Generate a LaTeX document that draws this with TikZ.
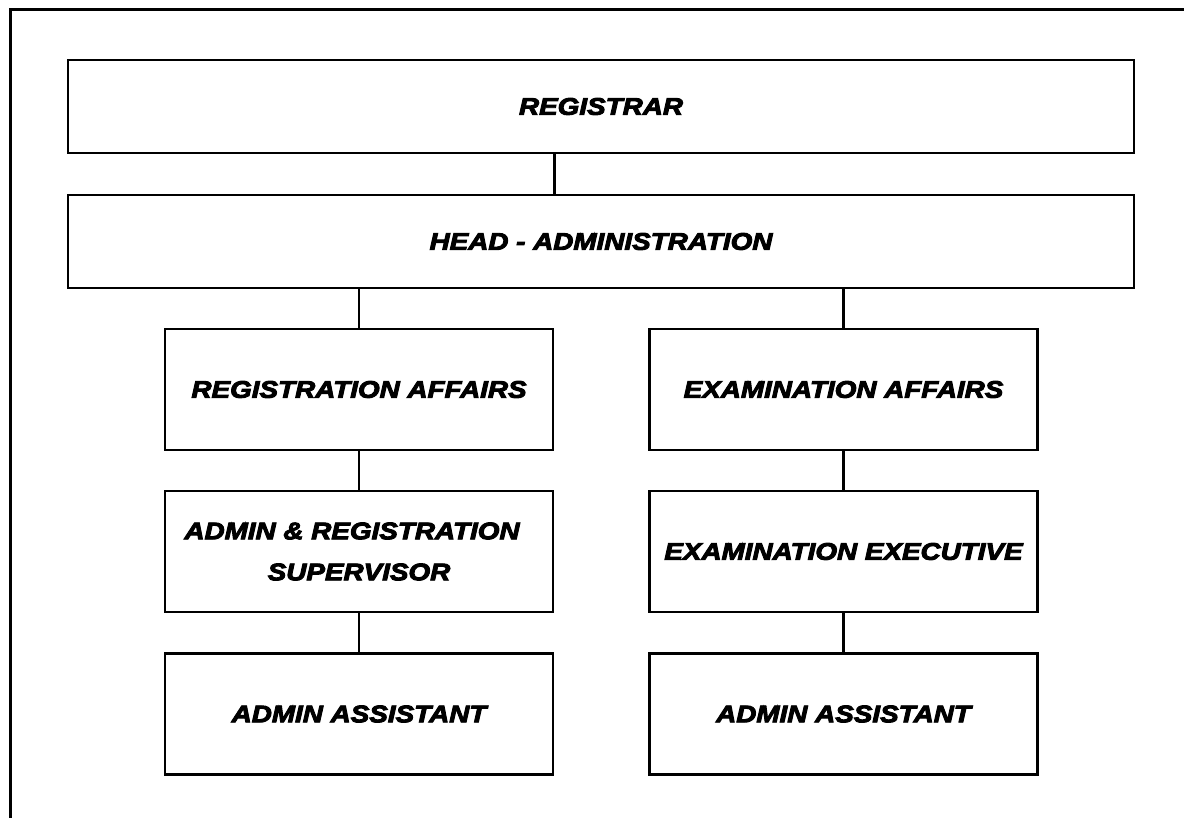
\documentclass[tikz,border=0pt]{standalone}
\usepackage{fontspec}
\newfontfamily\heavy{Liberation Sans Bold Italic}[FakeBold=4,FakeStretch=1.16]
\begin{document}
\begin{tikzpicture}[x=1pt,y=-1pt,
  box/.style={draw=black,line width=2.5pt,fill=white,inner sep=0pt,
    font=\heavy\fontsize{24}{41}\selectfont,align=center},
  wide/.style={box,minimum width=1066pt,minimum height=93pt},
  unit/.style={box,minimum width=388pt,minimum height=121pt},
  link/.style={draw=black,line width=2.5pt}]
\useasboundingbox (0,0) rectangle (1184,818);
% outer frame, running off the right and bottom edges
\draw[line width=3pt] (10,818) -- (10,10) -- (1190,10);

\node[wide] (reg)  at (601,106.5) {REGISTRAR};
\node[wide] (head) at (601,241.5) {HEAD - ADMINISTRATION};

\node[unit] (ra)  at (359,389.5) {REGISTRATION AFFAIRS};
\node[unit] (ea)  at (843.5,389.5) {EXAMINATION AFFAIRS};
\node[unit] (ars) at (359,551.5) {ADMIN \& REGISTRATION\hspace*{14pt}\\SUPERVISOR};
\node[unit] (ee)  at (843.5,551.5) {EXAMINATION EXECUTIVE};
\node[unit] (aa1) at (359,714) {ADMIN ASSISTANT};
\node[unit] (aa2) at (843.5,714) {ADMIN ASSISTANT};

\draw[link] (reg.south -| ra.east) -- (head.north -| ra.east);
\draw[link] (head.south -| ra.north) -- (ra.north);
\draw[link] (head.south -| ea.north) -- (ea.north);
\draw[link] (ra) -- (ars);
\draw[link] (ars) -- (aa1);
\draw[link] (ea) -- (ee);
\draw[link] (ee) -- (aa2);
\end{tikzpicture}
\end{document}
